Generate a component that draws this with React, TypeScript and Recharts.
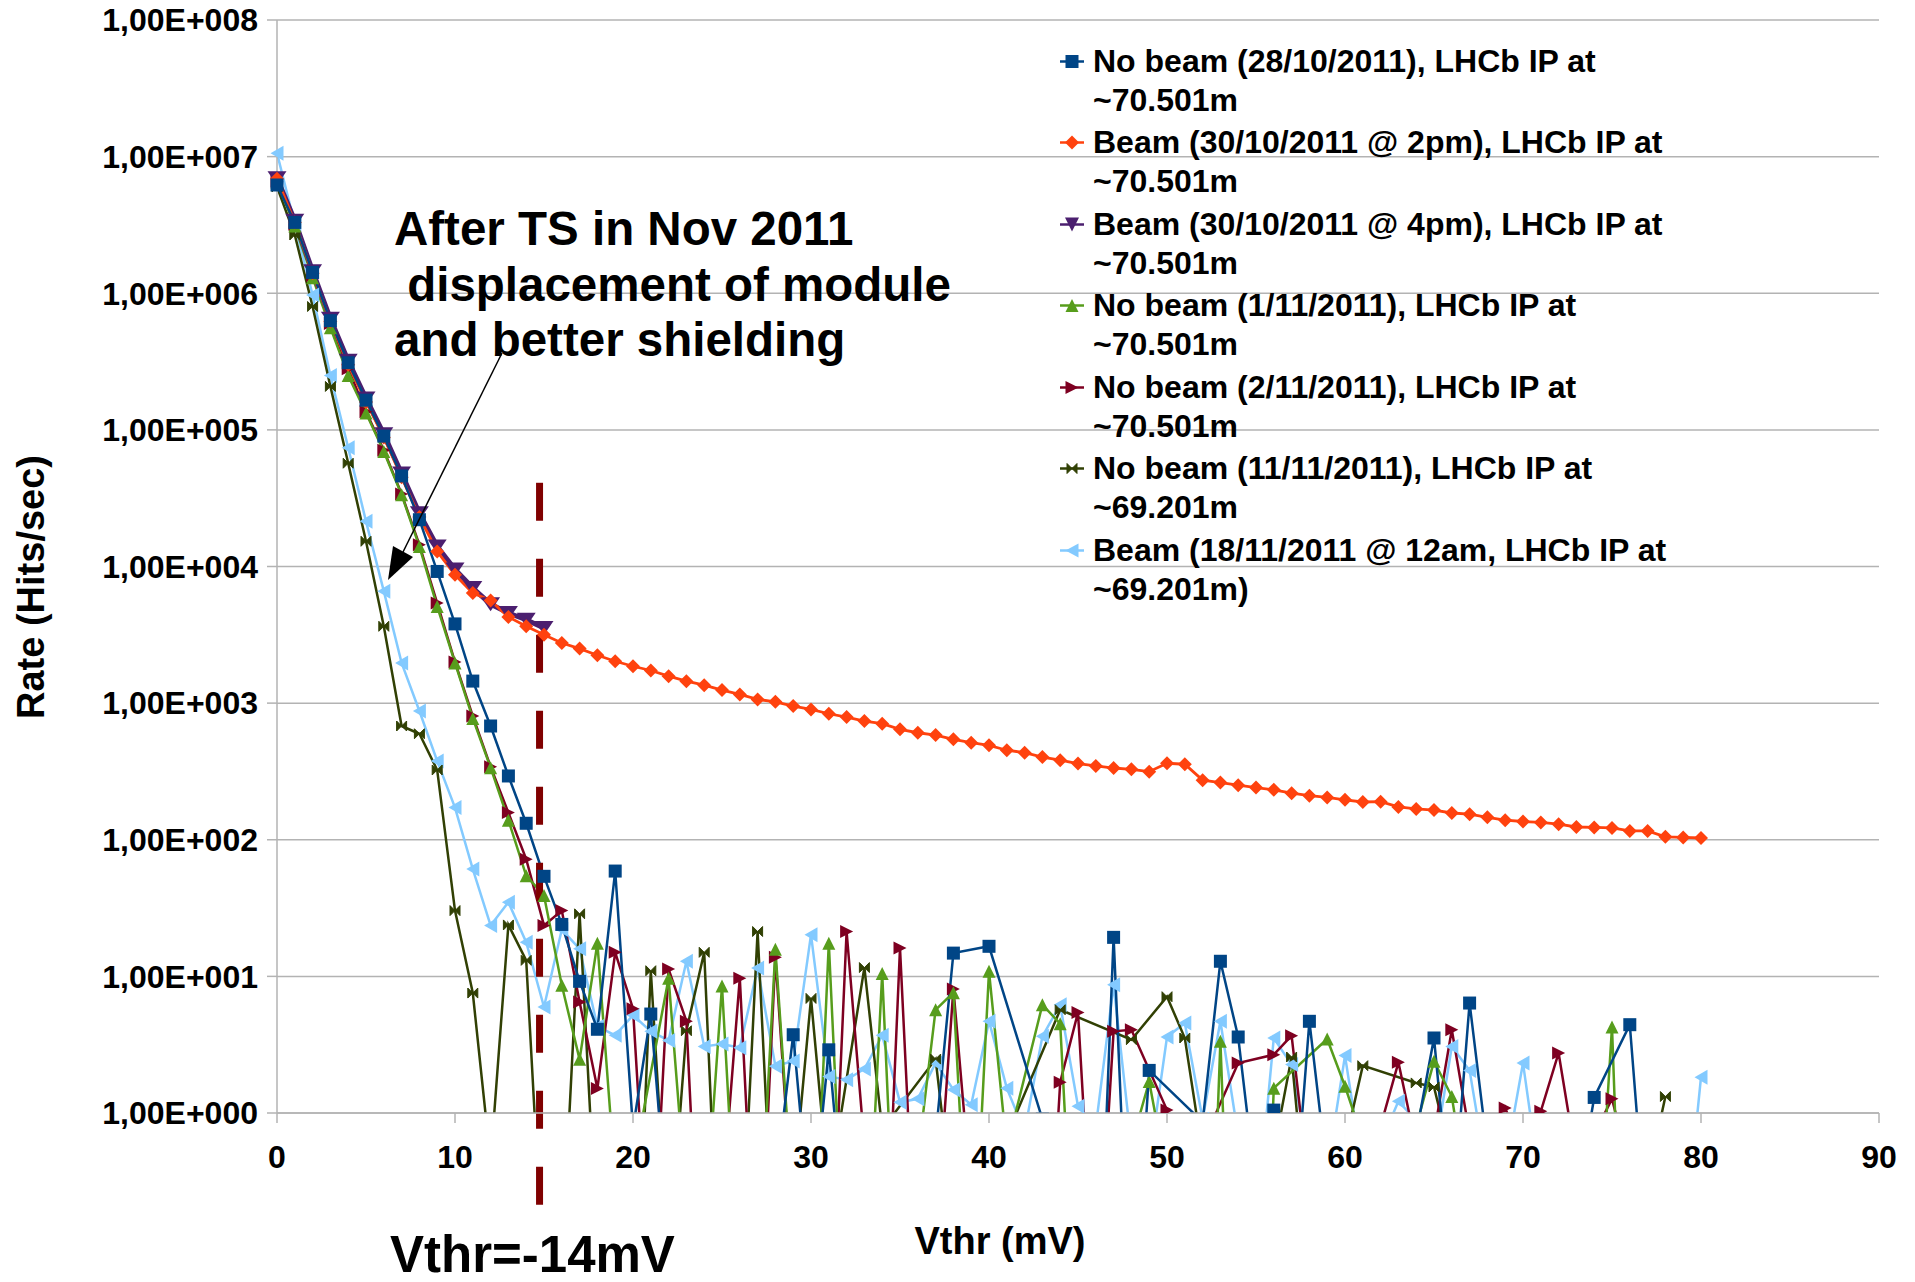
import { LineChart, Line, XAxis, YAxis, CartesianGrid, Legend, ReferenceLine, Label } from 'recharts'

const FONT = '"Liberation Sans", Arial, Helvetica, sans-serif'
const GRID = '#b3b3b3'

// threshold voltage (mV)
const vthr = [
  0, 1, 2, 3, 4, 5, 6, 7, 8, 9, 10, 11, 12, 13, 14, 15, 16, 17, 18, 19, 20,
  21, 22, 23, 24, 25, 26, 27, 28, 29, 30, 31, 32, 33, 34, 35, 36, 37, 38, 39, 40,
  41, 42, 43, 44, 45, 46, 47, 48, 49, 50, 51, 52, 53, 54, 55, 56, 57, 58, 59, 60,
  61, 62, 63, 64, 65, 66, 67, 68, 69, 70, 71, 72, 73, 74, 75, 76, 77, 78, 79, 80,
]

// rates (hits/sec); values < 1 fall below the axis, null = no point
const noBeam2810 = [
  6.2e6, 3.3e6, 1.42e6, 6.3e5, 3.1e5, 1.65e5, 9.0e4, 4.6e4, 2.2e4, 9.2e3, 3.8e3,
  1450, 680, 293, 132, 54, 24, 9.2, 4.1, 59, 0.77,
  5.3, 0.14, null, null, null, null, null, 0.3, 3.74, 0.14,
  2.9, 0.1, null, null, null, null, 0.67, 14.8, null, 16.6,
  null, null, 0.9, null, null, 0.01, 19.3, 0.02, 2.05, null,
  null, 0.86, 12.9, 3.6, 0.28, 1.05, 0.1, 4.69, 0.36, null,
  null, null, null, 0.7, 3.54, 0.15, 6.38, 0.54, null, null,
  null, null, 0.22, 1.3, null, 4.43, 0.1, null, null, null,
]

const beam3010pm2 = [
  6.9e6, 3.3e6, 1.4e6, 6.2e5, 3.0e5, 1.6e5, 8.8e4, 4.5e4, 2.3e4, 1.29e4, 8700,
  6400, 5650, 4270, 3650, 3170, 2755, 2507, 2240, 2026, 1862,
  1733, 1575, 1448, 1352, 1245, 1157, 1064, 1023, 951, 900,
  836, 791, 739, 707, 643, 607, 584, 543, 513, 491,
  452, 434, 403, 382, 361, 347, 335, 328, 315, 363,
  357, 273, 262, 251, 241, 232, 219, 210, 204, 196,
  189, 190, 174, 168, 165, 157, 154, 146, 139, 136,
  134, 130, 124, 123, 122, 116, 116, 105, 104, 103,
]

const beam3010pm4 = [
  6.95e6, 3.4e6, 1.45e6, 6.5e5, 3.2e5, 1.7e5, 9.3e4, 4.8e4, 2.45e4, 1.4e4, 9.5e3,
  6.95e3, 5.3e3, 4.57e3, 4.08e3, 3.55e3, null, null, null, null, null,
  null, null, null, null, null, null, null, null, null, null,
  null, null, null, null, null, null, null, null, null, null,
  null, null, null, null, null, null, null, null, null, null,
  null, null, null, null, null, null, null, null, null, null,
  null, null, null, null, null, null, null, null, null, null,
  null, null, null, null, null, null, null, null, null, null,
]

const noBeam0111 = [
  6.5e6, 3.1e6, 1.3e6, 5.6e5, 2.5e5, 1.33e5, 6.95e4, 3.35e4, 1.4e4, 5.1e3, 1970,
  773, 337, 139, 54.6, 39, 8.6, 2.47, 17.5, 0.33, 0.4,
  null, 9.7, 0.22, 0.12, 8.5, 0.04, 0.06, 15.8, 0.2, 0.02,
  17.5, 0.03, 0.03, 10.5, 0.013, 0.47, 5.7, 7.6, 0.03, 10.9,
  0.55, null, 6.2, 4.5, 0.014, null, null, 0.59, 1.7, 0.34,
  null, 0.001, 3.35, 0.001, 0.001, 1.52, null, null, 3.48, 1.57,
  0.64, null, null, 0.8, 2.39, 1.32, 0.2, null, null, null,
  null, null, null, 0.034, 4.26, 0.001, null, null, null, null,
]

const noBeam0211 = [
  6.6e6, 3.2e6, 1.35e6, 6.0e5, 2.8e5, 1.36e5, 7.1e4, 3.4e4, 1.44e4, 5.4e3, 2.0e3,
  804, 342, 158, 72, 23.6, 30.3, 6.5, 1.51, 15, 5.8,
  0.04, 11.3, 4.7, 0.01, 0.22, 9.7, 0.025, 13.8, 0.17, null,
  0.024, 21.3, 0.58, 0.015, 16.1, 0.033, 0.12, 8.1, 0.25, null,
  null, null, 0.01, 1.68, 5.45, 0.03, 3.96, 4.07, null, 1.05,
  0.3, 0.6, null, 2.32, null, 2.67, 3.68, 0.27, null, null,
  null, 0.8, 2.35, 0.57, 0.7, 4.07, 0.7, 0.5, 1.09, 0.5,
  1.03, 2.75, 0.44, 0.7, 1.27, 0.39, null, null, null, null,
]

const noBeam1111 = [
  6.0e6, 2.67e6, 8.0e5, 2.08e5, 5.7e4, 1.53e4, 3.65e3, 680, 597, 324, 30.3,
  7.55, 0.44, 23.8, 13.1, 0.055, 0.08, 28.7, 0.1, null, 0.01,
  11, 0.08, 4.0, 15, 0.017, 0.05, 21.3, 0.05, 0.27, 6.9,
  0.27, null, 11.6, 0.76, null, null, 2.48, 0.19, null, null,
  0.68, null, null, 5.7, null, null, null, 3.44, null, 7.1,
  3.54, 0.5, null, null, null, 0.53, 2.57, 0.11, null, 0.59,
  2.22, null, null, 1.66, 1.55, 0.45, null, null, null, null,
  null, null, null, null, null, null, 0.33, 1.32, null, null,
]

const beam1811 = [
  1.06e7, 3.2e6, 9.7e5, 2.5e5, 7.4e4, 2.14e4, 6.6e3, 1.97e3, 875, 377, 172,
  61, 23.6, 34.9, 17.8, 5.97, 22, 15.9, 4.3, 3.7, 5.2,
  3.96, 3.4, 12.9, 3.07, 3.2, 3.0, 11.5, 2.2, 2.4, 20.2,
  1.85, 1.75, 2.1, 3.7, 1.2, 1.27, 2.32, 1.48, 1.15, 4.7,
  1.52, 0.73, 3.64, 6.2, 1.12, 0.79, 8.7, 0.58, 0.43, 3.6,
  4.56, 0.9, 4.69, 0.68, 0.15, 3.54, 2.26, 0.44, 0.38, 2.63,
  0.38, 0.6, 1.22, 0.88, 0.47, 3.07, 2.05, 0.34, 0.43, 2.32,
  0.28, null, null, null, null, null, null, null, 0.09, 1.83,
]

const xTicks = [0, 10, 20, 30, 40, 50, 60, 70, 80, 90]
const yTicks = [1, 10, 100, 1e3, 1e4, 1e5, 1e6, 1e7, 1e8]

type Shape = 'square' | 'diamond' | 'down' | 'up' | 'right' | 'bowtie' | 'left'

const series = [
  { key: 'noBeam2810', line1: 'No beam (28/10/2011), LHCb IP at', line2: '~70.501m', color: '#004586', shape: 'square' as Shape, hw: 6.5, hh: 6.5, width: 2.5, values: noBeam2810 },
  { key: 'beam3010pm2', line1: 'Beam (30/10/2011 @ 2pm), LHCb IP at', line2: '~70.501m', color: '#ff420e', shape: 'diamond' as Shape, hw: 7, hh: 7, width: 2.8, values: beam3010pm2 },
  { key: 'beam3010pm4', line1: 'Beam (30/10/2011 @ 4pm), LHCb IP at', line2: '~70.501m', color: '#4b1f6f', shape: 'down' as Shape, hw: 9.5, hh: 7, width: 5, values: beam3010pm4 },
  { key: 'noBeam0111', line1: 'No beam (1/11/2011), LHCb IP at', line2: '~70.501m', color: '#579d1c', shape: 'up' as Shape, hw: 6.5, hh: 6.5, width: 2.5, values: noBeam0111 },
  { key: 'noBeam0211', line1: 'No beam (2/11/2011), LHCb IP at', line2: '~70.501m', color: '#7e0021', shape: 'right' as Shape, hw: 6.5, hh: 6.5, width: 2.5, values: noBeam0211 },
  { key: 'noBeam1111', line1: 'No beam (11/11/2011), LHCb IP at', line2: '~69.201m', color: '#314004', shape: 'bowtie' as Shape, hw: 5, hh: 5, width: 2.5, values: noBeam1111 },
  { key: 'beam1811', line1: 'Beam (18/11/2011 @ 12am, LHCb IP at', line2: '~69.201m)', color: '#83caff', shape: 'left' as Shape, hw: 6.5, hh: 7.5, width: 2.5, values: beam1811 },
]

const rows = vthr.map((v, i) => {
  const r: Record<string, number | null> = { v }
  series.forEach(s => { r[s.key] = s.values[i] })
  return r
})

function Marker({ shape, cx, cy, hw, hh, color }: { shape: Shape; cx: number; cy: number; hw: number; hh: number; color: string }) {
  const p = (pts: number[][]) => pts.map(q => `${q[0]},${q[1]}`).join(' ')
  switch (shape) {
    case 'square':
      return <rect x={cx - hw} y={cy - hh} width={2 * hw} height={2 * hh} fill={color} />
    case 'diamond':
      return <polygon points={p([[cx, cy - hh], [cx + hw, cy], [cx, cy + hh], [cx - hw, cy]])} fill={color} />
    case 'down':
      return <polygon points={p([[cx - hw, cy - hh], [cx + hw, cy - hh], [cx, cy + hh]])} fill={color} />
    case 'up':
      return <polygon points={p([[cx, cy - hh], [cx + hw, cy + hh], [cx - hw, cy + hh]])} fill={color} />
    case 'right':
      return <polygon points={p([[cx - hw, cy - hh], [cx + hw, cy], [cx - hw, cy + hh]])} fill={color} />
    case 'left':
      return <polygon points={p([[cx + hw, cy - hh], [cx - hw, cy], [cx + hw, cy + hh]])} fill={color} />
    case 'bowtie':
      return (
        <polygon
          points={p([[cx - hw, cy - hh], [cx, cy], [cx + hw, cy - hh], [cx + hw, cy + hh], [cx, cy], [cx - hw, cy + hh]])}
          fill={color}
          stroke={color}
          strokeWidth={1}
        />
      )
  }
  return null
}

const dotFor = (s: (typeof series)[number]) => (props: any) => {
  const k = `${s.key}-${props.index}`
  if (props.cx == null || props.cy == null || Number.isNaN(props.cy) || props.value == null) return <g key={k} />
  return (
    <g key={k}>
      <Marker shape={s.shape} cx={props.cx} cy={props.cy} hw={s.hw} hh={s.hh} color={s.color} />
    </g>
  )
}

const fmtY = (v: number) => `1,00E+${String(Math.round(Math.log10(v))).padStart(3, '0')}`

function LegendBox() {
  return (
    <div style={{ fontFamily: FONT, fontWeight: 700, fontSize: 32, lineHeight: '39px', color: '#000' }}>
      {series.map(s => (
        <div key={s.key} style={{ position: 'relative', height: 78, marginBottom: 3.5, whiteSpace: 'nowrap' }}>
          <svg width={30} height={39} style={{ position: 'absolute', left: 0, top: 0 }}>
            <line x1={3} x2={27} y1={19.5} y2={19.5} stroke={s.color} strokeWidth={2.5} />
            <Marker shape={s.shape} cx={15} cy={19.5} hw={Math.min(s.hw, 7)} hh={Math.min(s.hh, 7)} color={s.color} />
          </svg>
          <div style={{ position: 'absolute', left: 36, top: 0 }}>
            <div>{s.line1}</div>
            <div>{s.line2}</div>
          </div>
        </div>
      ))}
    </div>
  )
}

export default function App() {
  return (
    <div style={{ position: 'absolute', left: 0, top: 0, width: 1915, height: 1282, background: '#fff', overflow: 'hidden' }}>
      <LineChart width={1915} height={1282} data={rows} margin={{ top: 20, right: 36, left: 0, bottom: 0 }}>
        <CartesianGrid vertical={false} stroke={GRID} strokeWidth={1.5} />
        <XAxis
          dataKey="v"
          type="number"
          domain={[0, 90]}
          ticks={xTicks}
          interval={0}
          height={169}
          tickSize={10}
          tickMargin={22}
          axisLine={{ stroke: GRID, strokeWidth: 1.5 }}
          tickLine={{ stroke: GRID, strokeWidth: 1.5 }}
          tick={{ fill: '#000', fontSize: 32, fontWeight: 700, fontFamily: FONT }}
        >
          <Label
            content={() => (
              <text x={1000} y={1254} textAnchor="middle" fontFamily={FONT} fontWeight={700} fontSize={38} fill="#000">
                Vthr (mV)
              </text>
            )}
          />
        </XAxis>
        <YAxis
          type="number"
          scale="log"
          domain={[1, 1e8]}
          ticks={yTicks}
          interval={0}
          allowDataOverflow
          width={277}
          tickSize={10}
          tickMargin={9}
          tickFormatter={fmtY}
          axisLine={{ stroke: GRID, strokeWidth: 1.5 }}
          tickLine={{ stroke: GRID, strokeWidth: 1.5 }}
          tick={{ fill: '#000', fontSize: 32, fontWeight: 700, fontFamily: FONT }}
        >
          <Label
            content={() => (
              <text
                x={31}
                y={587}
                transform="rotate(-90, 31, 587)"
                textAnchor="middle"
                dominantBaseline="central"
                fontFamily={FONT}
                fontWeight={700}
                fontSize={38}
                fill="#000"
              >
                Rate (Hits/sec)
              </text>
            )}
          />
        </YAxis>
        <Legend
          layout="vertical"
          align="center"
          verticalAlign="middle"
          wrapperStyle={{ position: 'absolute', left: 1057, top: 41.5, width: 800 }}
          content={() => <LegendBox />}
        />
        {[...series].reverse().map(s => (
          <Line
            key={s.key}
            dataKey={s.key}
            name={s.line1 + ' ' + s.line2}
            type="linear"
            stroke={s.color}
            strokeWidth={s.width}
            dot={dotFor(s)}
            activeDot={false}
            connectNulls
            isAnimationActive={false}
          />
        ))}
        <ReferenceLine
          segment={[{ x: 14.75, y: 4.1e4 }, { x: 14.75, y: 0.186 }]}
          stroke="#800000"
          strokeWidth={7}
          strokeDasharray="38 38"
          ifOverflow="visible"
        />
      </LineChart>
      <svg width={1915} height={1282} style={{ position: 'absolute', left: 0, top: 0, pointerEvents: 'none' }}>
        <g fontFamily={FONT} fontWeight={700} fill="#000">
          <text x={394} y={245} fontSize={47.5}>After TS in Nov 2011</text>
          <text x={394} y={301} fontSize={47.5} xmlSpace="preserve">{' displacement of module'}</text>
          <text x={394} y={356} fontSize={47.5}>and better shielding</text>
          <text x={390} y={1272} fontSize={51}>Vthr=-14mV</text>
        </g>
        <line x1={502} y1={353} x2={403} y2={552} stroke="#000" strokeWidth={1.5} />
        <polygon points="388,580 393,546 413,557" fill="#000" />
      </svg>
    </div>
  )
}
